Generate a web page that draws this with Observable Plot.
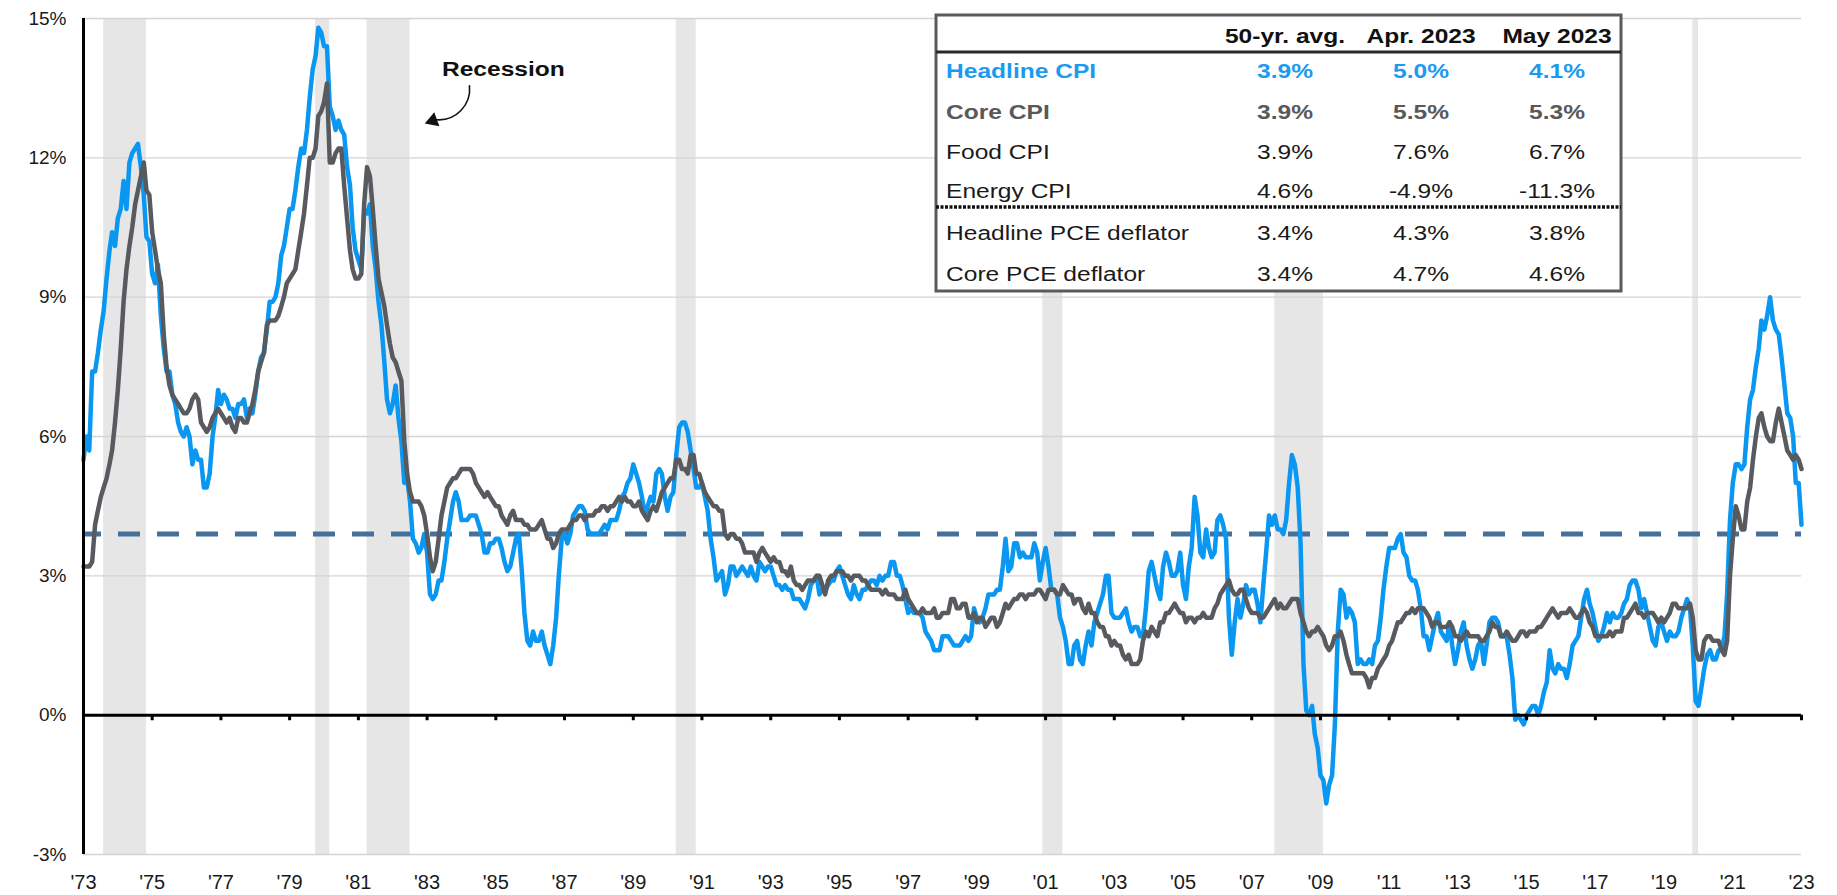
<!DOCTYPE html>
<html>
<head>
<meta charset="utf-8">
<script src="https://cdn.jsdelivr.net/npm/d3@7"></script>
<script src="https://cdn.jsdelivr.net/npm/@observablehq/plot@0.6"></script>
<style>
  html, body { margin: 0; padding: 0; background: #fff; }
  #chart { width: 1837px; height: 895px; overflow: hidden; }
</style>
</head>
<body>
<div id="chart"></div>
<script>
// ---------------- DATA ----------------
// Monthly y/y % change, May 1973 .. May 2023
const headlineCPI = [
  5.5, 6.0, 5.7, 7.4, 7.4, 7.8, 8.3, 8.7,                        // 1973 (May-Dec)
  9.4, 10.0, 10.4, 10.1, 10.7, 10.9, 11.5, 10.9, 11.9, 12.1, 12.2, 12.3, // 1974
  11.8, 11.2, 10.3, 10.2, 9.5, 9.3, 9.7, 8.6, 7.9, 7.4, 7.4, 6.9, // 1975
  6.7, 6.3, 6.1, 6.0, 6.2, 6.0, 5.4, 5.7, 5.5, 5.5, 4.9, 4.9,     // 1976
  5.2, 6.0, 6.4, 7.0, 6.7, 6.9, 6.8, 6.6, 6.6, 6.4, 6.7, 6.7,     // 1977
  6.8, 6.4, 6.6, 6.5, 6.9, 7.4, 7.7, 7.8, 8.3, 8.9, 8.9, 9.0,     // 1978
  9.3, 9.9, 10.1, 10.5, 10.9, 10.9, 11.3, 11.8, 12.2, 12.1, 12.6, 13.3, // 1979
  13.9, 14.2, 14.8, 14.7, 14.4, 14.4, 13.1, 12.9, 12.6, 12.8, 12.6, 12.5, // 1980
  11.8, 11.4, 10.5, 10.0, 9.8, 9.6, 10.8, 10.8, 11.0, 10.1, 9.6, 8.9, // 1981
  8.4, 7.6, 6.8, 6.5, 6.7, 7.1, 6.4, 5.9, 5.0, 5.1, 4.6, 3.8,     // 1982
  3.7, 3.5, 3.6, 3.9, 3.5, 2.6, 2.5, 2.6, 2.9, 2.9, 3.3, 3.8,     // 1983
  4.2, 4.6, 4.8, 4.6, 4.2, 4.2, 4.2, 4.3, 4.3, 4.3, 4.1, 3.9,     // 1984
  3.5, 3.5, 3.7, 3.7, 3.8, 3.8, 3.6, 3.3, 3.1, 3.2, 3.5, 3.8,     // 1985
  3.9, 3.1, 2.2, 1.6, 1.5, 1.8, 1.6, 1.6, 1.8, 1.5, 1.3, 1.1,     // 1986
  1.5, 2.1, 3.0, 3.8, 3.9, 3.7, 3.9, 4.3, 4.4, 4.5, 4.5, 4.4,     // 1987
  4.0, 3.9, 3.9, 3.9, 3.9, 4.0, 4.1, 4.0, 4.2, 4.2, 4.2, 4.4,     // 1988
  4.7, 4.8, 5.0, 5.1, 5.4, 5.2, 5.0, 4.7, 4.3, 4.5, 4.7, 4.6,     // 1989
  5.2, 5.3, 5.2, 4.7, 4.4, 4.7, 4.8, 5.6, 6.2, 6.3, 6.3, 6.1,     // 1990
  5.7, 5.3, 4.9, 4.9, 5.0, 4.7, 4.4, 3.8, 3.4, 2.9, 3.0, 3.1,     // 1991
  2.6, 2.8, 3.2, 3.2, 3.0, 3.1, 3.2, 3.1, 3.0, 3.2, 3.0, 2.9,     // 1992
  3.3, 3.2, 3.1, 3.2, 3.2, 3.0, 2.8, 2.8, 2.7, 2.8, 2.7, 2.7,     // 1993
  2.5, 2.5, 2.5, 2.4, 2.3, 2.5, 2.8, 2.9, 3.0, 2.6, 2.7, 2.7,     // 1994
  2.8, 2.9, 2.9, 3.1, 3.2, 3.0, 2.8, 2.6, 2.5, 2.8, 2.6, 2.5,     // 1995
  2.7, 2.7, 2.8, 2.9, 2.9, 2.8, 3.0, 2.9, 3.0, 3.0, 3.3, 3.3,     // 1996
  3.0, 3.0, 2.8, 2.5, 2.2, 2.3, 2.2, 2.2, 2.2, 2.1, 1.8, 1.7,     // 1997
  1.6, 1.4, 1.4, 1.4, 1.7, 1.7, 1.7, 1.6, 1.5, 1.5, 1.5, 1.6,     // 1998
  1.7, 1.6, 1.7, 2.3, 2.1, 2.0, 2.1, 2.3, 2.6, 2.6, 2.6, 2.7,     // 1999
  2.7, 3.2, 3.8, 3.1, 3.2, 3.7, 3.7, 3.4, 3.5, 3.4, 3.4, 3.4,     // 2000
  3.7, 3.5, 2.9, 3.3, 3.6, 3.2, 2.7, 2.7, 2.6, 2.1, 1.9, 1.6,     // 2001
  1.1, 1.1, 1.5, 1.6, 1.2, 1.1, 1.5, 1.8, 1.5, 2.0, 2.2, 2.4,     // 2002
  2.6, 3.0, 3.0, 2.2, 2.1, 2.1, 2.1, 2.2, 2.3, 2.0, 1.8, 1.9,     // 2003
  1.9, 1.7, 1.7, 2.3, 3.1, 3.3, 3.0, 2.7, 2.5, 3.2, 3.5, 3.3,     // 2004
  3.0, 3.0, 3.1, 3.5, 2.8, 2.5, 3.2, 3.6, 4.7, 4.3, 3.5, 3.4,     // 2005
  4.0, 3.6, 3.4, 3.5, 4.2, 4.3, 4.1, 3.8, 2.1, 1.3, 2.0, 2.5,     // 2006
  2.1, 2.4, 2.8, 2.6, 2.7, 2.7, 2.4, 2.0, 2.8, 3.5, 4.3, 4.1,     // 2007
  4.3, 4.0, 4.0, 3.9, 4.2, 5.0, 5.6, 5.4, 4.9, 3.7, 1.1, 0.1,     // 2008
  0.0, 0.2, -0.4, -0.7, -1.3, -1.4, -1.9, -1.5, -1.3, -0.2, 1.8, 2.7, // 2009
  2.6, 2.1, 2.3, 2.2, 2.0, 1.1, 1.2, 1.1, 1.1, 1.2, 1.1, 1.5,     // 2010
  1.6, 2.1, 2.7, 3.2, 3.6, 3.6, 3.6, 3.8, 3.9, 3.5, 3.4, 3.0,     // 2011
  2.9, 2.9, 2.7, 2.3, 1.7, 1.7, 1.4, 1.7, 2.0, 2.2, 1.8, 1.7,     // 2012
  1.6, 2.0, 1.5, 1.1, 1.4, 1.8, 2.0, 1.5, 1.2, 1.0, 1.2, 1.5,     // 2013
  1.6, 1.1, 1.5, 2.0, 2.1, 2.1, 2.0, 1.7, 1.7, 1.7, 1.3, 0.8,     // 2014
  -0.1, 0.0, -0.1, -0.2, 0.0, 0.1, 0.2, 0.2, 0.0, 0.2, 0.5, 0.7,  // 2015
  1.4, 1.0, 0.9, 1.1, 1.0, 1.0, 0.8, 1.1, 1.5, 1.6, 1.7, 2.1,     // 2016
  2.5, 2.7, 2.4, 2.2, 1.9, 1.6, 1.7, 1.9, 2.2, 2.0, 2.2, 2.1,     // 2017
  2.1, 2.2, 2.4, 2.5, 2.8, 2.9, 2.9, 2.7, 2.3, 2.5, 2.2, 1.9,     // 2018
  1.6, 1.5, 1.9, 2.0, 1.8, 1.6, 1.8, 1.7, 1.7, 1.8, 2.1, 2.3,     // 2019
  2.5, 2.3, 1.5, 0.3, 0.2, 0.6, 1.0, 1.3, 1.4, 1.2, 1.2, 1.4,     // 2020
  1.4, 1.7, 2.6, 4.2, 5.0, 5.4, 5.4, 5.3, 5.4, 6.2, 6.8, 7.0,     // 2021
  7.5, 7.9, 8.5, 8.3, 8.6, 9.0, 8.5, 8.3, 8.2, 7.7, 7.1, 6.5,     // 2022
  6.4, 6.0, 5.0, 5.0, 4.1                                         // 2023 (Jan-May)
];

const coreCPI = [
  3.2, 3.2, 3.2, 3.3, 4.1, 4.4, 4.7, 4.9,                        // 1973 (May-Dec)
  5.1, 5.4, 5.7, 6.3, 7.0, 7.9, 8.9, 9.6, 10.1, 10.5, 11.0, 11.3, // 1974
  11.6, 11.9, 11.3, 11.2, 10.4, 10.0, 9.6, 9.3, 8.2, 7.5, 7.1, 6.9, // 1975
  6.8, 6.7, 6.6, 6.5, 6.5, 6.6, 6.8, 6.9, 6.8, 6.3, 6.2, 6.1,     // 1976
  6.2, 6.4, 6.5, 6.6, 6.5, 6.4, 6.3, 6.4, 6.2, 6.1, 6.4, 6.4,     // 1977
  6.3, 6.3, 6.5, 6.7, 7.0, 7.4, 7.6, 7.8, 8.4, 8.5, 8.5, 8.5,     // 1978
  8.6, 8.8, 9.0, 9.3, 9.4, 9.5, 9.6, 10.0, 10.4, 10.8, 11.4, 12.0, // 1979
  12.0, 12.2, 12.9, 13.0, 13.2, 13.6, 11.9, 11.9, 12.1, 12.2, 12.2, 11.4, // 1980
  10.7, 10.0, 9.6, 9.4, 9.4, 9.5, 11.0, 11.8, 11.6, 10.9, 10.1, 9.4, // 1981
  9.1, 8.8, 8.4, 8.0, 7.7, 7.6, 7.4, 7.2, 5.9, 5.2, 4.8, 4.6,     // 1982
  4.6, 4.6, 4.5, 4.3, 3.9, 3.4, 3.1, 3.3, 3.8, 4.3, 4.6, 4.9,     // 1983
  5.0, 5.1, 5.1, 5.2, 5.3, 5.3, 5.3, 5.3, 5.2, 5.0, 4.9, 4.8,     // 1984
  4.7, 4.8, 4.7, 4.6, 4.5, 4.5, 4.3, 4.2, 4.1, 4.3, 4.4, 4.2,     // 1985
  4.2, 4.2, 4.1, 4.1, 4.0, 4.0, 4.0, 4.1, 4.2, 4.0, 3.8, 3.8,     // 1986
  3.6, 3.7, 3.9, 4.0, 4.0, 4.0, 4.1, 4.2, 4.2, 4.3, 4.3, 4.2,     // 1987
  4.3, 4.3, 4.3, 4.4, 4.4, 4.5, 4.5, 4.4, 4.5, 4.5, 4.6, 4.7,     // 1988
  4.6, 4.7, 4.6, 4.6, 4.5, 4.5, 4.6, 4.4, 4.3, 4.2, 4.4, 4.5,     // 1989
  4.4, 4.6, 4.8, 4.9, 5.0, 5.1, 5.1, 5.5, 5.5, 5.3, 5.3, 5.2,     // 1990
  5.6, 5.6, 5.2, 5.2, 5.0, 4.8, 4.7, 4.6, 4.5, 4.5, 4.4, 4.4,     // 1991
  3.9, 3.8, 3.9, 3.9, 3.8, 3.8, 3.7, 3.5, 3.5, 3.5, 3.5, 3.3,     // 1992
  3.5, 3.6, 3.5, 3.4, 3.3, 3.4, 3.3, 3.3, 3.1, 3.1, 3.0, 3.2,     // 1993
  2.9, 2.8, 2.8, 2.7, 2.8, 2.9, 2.9, 2.9, 3.0, 3.0, 2.8, 2.6,     // 1994
  2.9, 3.0, 3.0, 3.1, 3.1, 3.1, 3.0, 3.0, 2.9, 3.0, 3.0, 3.0,     // 1995
  2.9, 2.9, 2.8, 2.7, 2.7, 2.7, 2.7, 2.6, 2.7, 2.6, 2.6, 2.6,     // 1996
  2.5, 2.5, 2.5, 2.7, 2.5, 2.4, 2.3, 2.2, 2.2, 2.3, 2.2, 2.2,     // 1997
  2.2, 2.3, 2.1, 2.1, 2.2, 2.2, 2.2, 2.5, 2.5, 2.3, 2.3, 2.4,     // 1998
  2.4, 2.1, 2.1, 2.2, 2.0, 2.1, 2.1, 1.9, 2.0, 2.1, 2.1, 1.9,     // 1999
  2.0, 2.2, 2.4, 2.3, 2.4, 2.5, 2.5, 2.6, 2.6, 2.5, 2.6, 2.6,     // 2000
  2.6, 2.7, 2.7, 2.6, 2.5, 2.7, 2.7, 2.7, 2.6, 2.6, 2.8, 2.7,     // 2001
  2.6, 2.6, 2.4, 2.5, 2.5, 2.3, 2.2, 2.4, 2.2, 2.2, 2.0, 1.9,     // 2002
  1.9, 1.7, 1.7, 1.5, 1.6, 1.5, 1.5, 1.3, 1.2, 1.3, 1.1, 1.1,     // 2003
  1.1, 1.2, 1.6, 1.8, 1.7, 1.9, 1.8, 1.7, 2.0, 2.0, 2.2, 2.2,     // 2004
  2.3, 2.4, 2.3, 2.2, 2.2, 2.0, 2.1, 2.1, 2.0, 2.1, 2.1, 2.2,     // 2005
  2.1, 2.1, 2.1, 2.3, 2.4, 2.6, 2.7, 2.8, 2.9, 2.7, 2.6, 2.6,     // 2006
  2.7, 2.7, 2.5, 2.3, 2.2, 2.2, 2.2, 2.1, 2.1, 2.2, 2.3, 2.4,     // 2007
  2.5, 2.3, 2.4, 2.3, 2.3, 2.4, 2.5, 2.5, 2.5, 2.2, 2.0, 1.8,     // 2008
  1.7, 1.8, 1.8, 1.9, 1.8, 1.7, 1.5, 1.4, 1.5, 1.7, 1.7, 1.8,     // 2009
  1.6, 1.3, 1.1, 0.9, 0.9, 0.9, 0.9, 0.9, 0.8, 0.6, 0.8, 0.8,     // 2010
  1.0, 1.1, 1.2, 1.3, 1.5, 1.6, 1.8, 2.0, 2.0, 2.1, 2.2, 2.2,     // 2011
  2.3, 2.2, 2.3, 2.3, 2.3, 2.2, 2.1, 1.9, 2.0, 2.0, 1.9, 1.9,     // 2012
  1.9, 2.0, 1.9, 1.7, 1.7, 1.6, 1.7, 1.8, 1.7, 1.7, 1.7, 1.7,     // 2013
  1.6, 1.6, 1.7, 1.8, 2.0, 1.9, 1.9, 1.7, 1.7, 1.8, 1.7, 1.6,     // 2014
  1.6, 1.7, 1.8, 1.8, 1.7, 1.8, 1.8, 1.8, 1.9, 1.9, 2.0, 2.1,     // 2015
  2.2, 2.3, 2.2, 2.1, 2.2, 2.2, 2.2, 2.3, 2.2, 2.1, 2.1, 2.2,     // 2016
  2.3, 2.2, 2.0, 1.9, 1.7, 1.7, 1.7, 1.7, 1.7, 1.8, 1.7, 1.8,     // 2017
  1.8, 1.8, 2.1, 2.1, 2.2, 2.3, 2.4, 2.2, 2.2, 2.1, 2.2, 2.2,     // 2018
  2.2, 2.1, 2.0, 2.1, 2.0, 2.1, 2.2, 2.4, 2.4, 2.3, 2.3, 2.3,     // 2019
  2.3, 2.4, 2.1, 1.4, 1.2, 1.2, 1.6, 1.7, 1.7, 1.6, 1.6, 1.6,     // 2020
  1.4, 1.3, 1.6, 3.0, 3.8, 4.5, 4.3, 4.0, 4.0, 4.6, 4.9, 5.5,     // 2021
  6.0, 6.4, 6.5, 6.2, 6.0, 5.9, 5.9, 6.3, 6.6, 6.3, 6.0, 5.7,     // 2022
  5.6, 5.5, 5.6, 5.5, 5.3                                         // 2023 (Jan-May)
];

const fiftyYearAvg = 3.9;

const recessions = [
  ["1973-12-01", "1975-03-01"],
  ["1980-02-01", "1980-07-01"],
  ["1981-08-01", "1982-11-01"],
  ["1990-08-01", "1991-03-01"],
  ["2001-04-01", "2001-11-01"],
  ["2008-01-01", "2009-06-01"],
  ["2020-03-01", "2020-05-01"]
];

const yTicks = [-3, 0, 3, 6, 9, 12, 15];
const xTickLabels = ["'73","'75","'77","'79","'81","'83","'85","'87","'89","'91","'93","'95","'97",
                     "'99","'01","'03","'05","'07","'09","'11","'13","'15","'17","'19","'21","'23"];

// Table
const tableHeaders = ["50-yr. avg.", "Apr. 2023", "May 2023"];
const tableRows = ["Headline CPI", "Core CPI", "Food CPI", "Energy CPI", "Headline PCE deflator", "Core PCE deflator"];
const avg50 = ["3.9%", "3.9%", "3.9%", "4.6%", "3.4%", "3.4%"];
const apr2023 = ["5.0%", "5.5%", "7.6%", "-4.9%", "4.3%", "4.7%"];
const may2023 = ["4.1%", "5.3%", "6.7%", "-11.3%", "3.8%", "4.6%"];

// ---------------- BUILD ----------------
const BLUE = "#0a97f2";
const GREY = "#575b5f";
const AVG = "#44709a";
const FONT = "'Liberation Sans', Arial, Helvetica, sans-serif";
const STRETCH = 1.17;

const monthDate = i => new Date(Date.UTC(1973, 4 + i, 1));
const headline = headlineCPI.map((v, i) => ({date: monthDate(i), value: v}));
const core = coreCPI.map((v, i) => ({date: monthDate(i), value: v}));
const xDomain = [new Date(Date.UTC(1973, 4, 1)), new Date(Date.UTC(2023, 4, 1))];
const xTicks = xTickLabels.map((_, i) => new Date(Date.UTC(1973 + 2 * i, 4, 1)));
const labelOf = new Map(xTicks.map((d, i) => [+d, xTickLabels[i]]));
const recs = recessions.map(([a, b]) => ({start: new Date(a), end: new Date(b)}));

const recessionLabel = [{x: new Date(Date.UTC(1985, 6, 20)), y: 13.9, text: "Recession"}];
const recessionArrow = [{x1: new Date(Date.UTC(1984, 6, 25)), y1: 13.55, x2: new Date(Date.UTC(1983, 7, 10)), y2: 12.82}];
const arrowHead = [{x: new Date(Date.UTC(1983, 6, 1)), y: 12.8}];

const chart = Plot.plot({
  width: 1837,
  height: 895,
  marginLeft: 83,
  marginRight: 36,
  marginTop: 18,
  marginBottom: 41,
  style: {fontFamily: FONT, background: "#fff", overflow: "visible"},
  x: {type: "utc", domain: xDomain},
  y: {domain: [-3, 15]},
  marks: [
    Plot.rect(recs, {x1: "start", x2: "end", y1: -3, y2: 15, fill: "#e6e6e6"}),
    Plot.ruleY(yTicks.filter(d => d !== 0), {stroke: "#d4d4d4", strokeWidth: 1.3}),
    Plot.axisY(yTicks, {tickSize: 0, tickPadding: 17, tickFormat: d => d + "%", fontSize: 19, fill: "#1a1a1a"}),
    Plot.axisX(xTicks, {tickSize: 0, tickPadding: 20, tickFormat: d => labelOf.get(+d), fontSize: 20, fill: "#1a1a1a"}),
    Plot.ruleY([fiftyYearAvg], {stroke: AVG, strokeWidth: 5, strokeDasharray: "22,17", strokeDashoffset: 4}),
    Plot.line(headline, {x: "date", y: "value", stroke: BLUE, strokeWidth: 4.5, strokeLinejoin: "round"}),
    Plot.line(core, {x: "date", y: "value", stroke: GREY, strokeWidth: 4.5, strokeLinejoin: "round"}),
    Plot.ruleY([0], {stroke: "#000", strokeWidth: 3}),
    Plot.ruleX(xTicks, {y1: 0, y2: -0.12, stroke: "#000", strokeWidth: 3}),
    Plot.ruleX([xDomain[0]], {y1: -3, y2: 15, stroke: "#000", strokeWidth: 3}),
    Plot.text(recessionLabel, {x: "x", y: "y", text: "text", fontSize: 21, fontWeight: "bold", fill: "#111", className: "stretch"}),
    Plot.arrow(recessionArrow, {x1: "x1", y1: "y1", x2: "x2", y2: "y2", bend: 50, headLength: 0, stroke: "#111", strokeWidth: 1.6}),
    Plot.dot(arrowHead, {x: "x", y: "y", symbol: "triangle", r: 5.5, rotate: 250, fill: "#111", stroke: "none"})
  ]
});

// horizontal stretch of label text to match the reference glyph proportions
d3.select(chart).selectAll(".stretch text").each(function () {
  const t = this.getAttribute("transform");
  if (t) this.setAttribute("transform", t + ` scale(${STRETCH},1)`);
});

// ---------------- TABLE (annotation box) ----------------
const svg = d3.select(chart);
const g = svg.append("g").attr("font-family", FONT);
const T = {x0: 936, y0: 15, x1: 1621, y1: 291};
g.append("rect")
  .attr("x", T.x0).attr("y", T.y0).attr("width", T.x1 - T.x0).attr("height", T.y1 - T.y0)
  .attr("fill", "#fff").attr("stroke", "#5a5a5a").attr("stroke-width", 3);
g.append("line").attr("x1", T.x0).attr("x2", T.x1).attr("y1", 52).attr("y2", 52)
  .attr("stroke", "#2a2a2a").attr("stroke-width", 3);
g.append("line").attr("x1", T.x0).attr("x2", T.x1).attr("y1", 207).attr("y2", 207)
  .attr("stroke", "#111").attr("stroke-width", 3.5).attr("stroke-dasharray", "3,1.5");

const colX = [1285, 1421, 1557];
function addText(str, x, y, anchor, opts) {
  g.append("text")
    .attr("transform", `translate(${x},${y}) scale(${STRETCH},1)`)
    .attr("text-anchor", anchor)
    .attr("font-size", 21)
    .attr("font-weight", opts.bold ? "bold" : "normal")
    .attr("fill", opts.fill)
    .text(str);
}
tableHeaders.forEach((h, j) => addText(h, colX[j], 43, "middle", {bold: true, fill: "#111"}));
const rowY = [78, 119, 159, 198, 240, 281];
const rowStyle = [
  {bold: true, fill: "#1a9bf0"},
  {bold: true, fill: "#595959"},
  {bold: false, fill: "#1a1a1a"},
  {bold: false, fill: "#1a1a1a"},
  {bold: false, fill: "#1a1a1a"},
  {bold: false, fill: "#1a1a1a"}
];
tableRows.forEach((r, i) => {
  addText(r, 946, rowY[i], "start", rowStyle[i]);
  [avg50, apr2023, may2023].forEach((col, j) => addText(col[i], colX[j], rowY[i], "middle", rowStyle[i]));
});

document.getElementById("chart").appendChild(chart);
</script>
</body>
</html>
